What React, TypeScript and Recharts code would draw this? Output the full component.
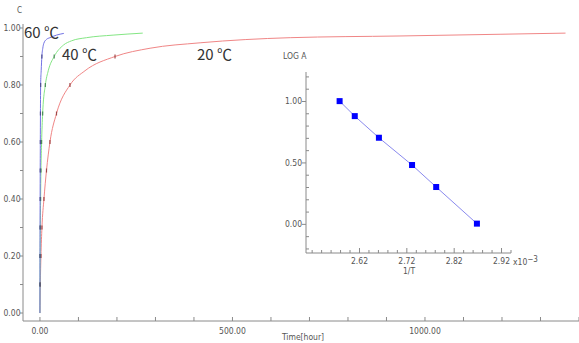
import React from 'react';
import { LineChart, Line, XAxis, YAxis } from 'recharts';

// ---- main chart data (time [hour] vs C) ----
const t20 = [0, 1, 2.6, 5.2, 10.4, 17, 26, 43, 78, 117, 195, 286, 416, 650, 935, 1195, 1365];
const c20 = [0, 0.1, 0.2, 0.3, 0.4, 0.5, 0.6, 0.7, 0.8, 0.85, 0.9, 0.929, 0.948, 0.966, 0.972, 0.978, 0.982];

const t40 = [0, 0.2, 0.5, 1, 1.7, 2.6, 4.3, 7, 14, 21.6, 37, 61, 82, 121, 190, 267];
const c40 = [0, 0.1, 0.2, 0.3, 0.4, 0.5, 0.6, 0.7, 0.8, 0.85, 0.9, 0.94, 0.955, 0.966, 0.975, 0.982];

const t60 = [0, 0.1, 0.2, 0.35, 0.5, 0.7, 1.0, 1.3, 1.8, 3.2, 5, 7.5, 10, 17, 26, 43, 62];
const c60 = [0, 0.1, 0.2, 0.3, 0.4, 0.5, 0.6, 0.7, 0.8, 0.85, 0.9, 0.93, 0.946, 0.96, 0.966, 0.975, 0.981];

const mainXTicks = [0, 100, 200, 300, 400, 500, 600, 700, 800, 900, 1000, 1100, 1200, 1300, 1400];
const mainXLabels = [0, 500, 1000];
const mainYTicks = [0, 0.1, 0.2, 0.3, 0.4, 0.5, 0.6, 0.7, 0.8, 0.9, 1.0];
const mainYLabels = [0, 0.2, 0.4, 0.6, 0.8, 1.0];

// ---- inset data (1/T vs LOG A) ----
const invT = [2.578, 2.61, 2.661, 2.731, 2.782, 2.868];
const logA = [1.003, 0.881, 0.705, 0.483, 0.304, 0.006];

const insetXTicks = [2.52, 2.54, 2.56, 2.58, 2.6, 2.62, 2.64, 2.66, 2.68, 2.7, 2.72, 2.74, 2.76, 2.78, 2.8, 2.82, 2.84, 2.86, 2.88, 2.9, 2.92, 2.94];
const insetXLabels = [2.62, 2.72, 2.82, 2.92];
const insetYTicks = [-0.2, -0.1, 0, 0.1, 0.2, 0.3, 0.4, 0.5, 0.6, 0.7, 0.8, 0.9, 1.0, 1.1, 1.2];
const insetYLabels = [0, 0.5, 1.0];

const series20 = t20.map((t, i) => ({ t, c: c20[i] }));
const series40 = t40.map((t, i) => ({ t, c: c40[i] }));
const series60 = t60.map((t, i) => ({ t, c: c60[i] }));
const insetData = invT.map((x, i) => ({ x, y: logA[i] }));

const TICK_FONT = '"Liberation Sans Narrow", "DejaVu Sans Condensed", "Arial Narrow", sans-serif';
const TICK_COLOR = '#555';
const AXIS_COLOR = '#8a8a8a';
const LABEL_FONT = '"Noto Sans CJK KR", "Noto Sans", sans-serif';

const has = (arr: number[], v: number) => arr.some((a) => Math.abs(a - v) < 1e-6);

const MainYTick = (props: any) => {
  const { x, y, payload } = props;
  const v = payload.value;
  return (
    <g>
      <line x1={x - 3} x2={x} y1={y} y2={y} stroke={AXIS_COLOR} />
      {has(mainYLabels, v) && (
        <text x={x - 2.5} y={y} dy={3} textAnchor="end" fontSize={8.5} fontFamily={TICK_FONT} fill={TICK_COLOR}>
          {v.toFixed(2)}
        </text>
      )}
    </g>
  );
};

const MainXTick = (props: any) => {
  const { x, y, payload } = props;
  const v = payload.value;
  return (
    <g>
      <line x1={x} x2={x} y1={y} y2={y - 4} stroke={AXIS_COLOR} />
      {has(mainXLabels, v) && (
        <text x={x} y={y + 13} textAnchor="middle" fontSize={8.5} fontFamily={TICK_FONT} fill={TICK_COLOR}>
          {v.toFixed(2)}
        </text>
      )}
    </g>
  );
};

const InsetYTick = (props: any) => {
  const { x, y, payload } = props;
  const v = payload.value;
  const major = has(insetYLabels, v);
  return (
    <g>
      {major ? (
        <line x1={x - 4} x2={x} y1={y} y2={y} stroke={AXIS_COLOR} />
      ) : (
        <line x1={x} x2={x + 3} y1={y} y2={y} stroke={AXIS_COLOR} />
      )}
      {major && (
        <text x={x - 4} y={y} dy={3} textAnchor="end" fontSize={8.5} fontFamily={TICK_FONT} fill={TICK_COLOR}>
          {v.toFixed(2)}
        </text>
      )}
    </g>
  );
};

const InsetXTick = (props: any) => {
  const { x, y, payload } = props;
  const v = payload.value;
  const major = has(insetXLabels, v);
  return (
    <g>
      <line x1={x} x2={x} y1={y} y2={y - (major ? 5 : 3)} stroke={AXIS_COLOR} />
      {major && (
        <text x={x} y={y + 11} textAnchor="middle" fontSize={8.5} fontFamily={TICK_FONT} fill={TICK_COLOR}>
          {v.toFixed(2)}
        </text>
      )}
    </g>
  );
};

const makeDash = (color: string) => (props: any) => {
  const { cx, cy, payload, index } = props;
  const v = payload.c;
  const isMark = v > 0 && v < 0.95 && Math.abs(v * 10 - Math.round(v * 10)) < 1e-6;
  if (!isMark || cx == null || cy == null) return <g key={`d${index}`} />;
  return <line key={`d${index}`} x1={cx} x2={cx} y1={cy - 2} y2={cy + 2} stroke={color} strokeWidth={1.2} />;
};

const Square = (props: any) => {
  const { cx, cy, index } = props;
  if (cx == null || cy == null) return <g key={`s${index}`} />;
  return <rect key={`s${index}`} x={cx - 3} y={cy - 3} width={6} height={6} fill="#0000ff" />;
};

export default function App() {
  return (
    <div style={{ position: 'fixed', left: 0, top: 0, width: 579, height: 343, background: '#fff', overflow: 'hidden' }}>
      <LineChart width={579} height={343} margin={{ top: 24, right: 0, bottom: 0, left: 0 }}>
        <XAxis
          xAxisId="main"
          type="number"
          dataKey="t"
          domain={[-44, 1400]}
          ticks={mainXTicks}
          interval={0}
          height={22}
          tickSize={0}
          tickMargin={0}
          tickLine={false}
          tick={<MainXTick />}
          axisLine={{ stroke: AXIS_COLOR }}
          allowDataOverflow
        />
        <XAxis
          xAxisId="top"
          orientation="top"
          type="number"
          dataKey="t"
          domain={[-44, 1400]}
          height={0}
          tick={false}
          tickLine={false}
          axisLine={{ stroke: '#9a9a9a' }}
          allowDataOverflow
        />
        <YAxis
          yAxisId="main"
          type="number"
          domain={[-0.028, 1.014]}
          ticks={mainYTicks}
          interval={0}
          width={23}
          tickSize={0}
          tickMargin={0}
          tickLine={false}
          tick={<MainYTick />}
          axisLine={{ stroke: AXIS_COLOR }}
          allowDataOverflow
        />
        <Line
          xAxisId="main"
          yAxisId="main"
          data={series20}
          dataKey="c"
          type="monotone"
          stroke="#f08686"
          strokeWidth={1}
          dot={makeDash('#a04848')}
          activeDot={false}
          isAnimationActive={false}
        />
        <Line
          xAxisId="main"
          yAxisId="main"
          data={series40}
          dataKey="c"
          type="monotone"
          stroke="#84e684"
          strokeWidth={1}
          dot={makeDash('#4a8a5a')}
          activeDot={false}
          isAnimationActive={false}
        />
        <Line
          xAxisId="main"
          yAxisId="main"
          data={series60}
          dataKey="c"
          type="monotone"
          stroke="#7272e4"
          strokeWidth={1}
          dot={makeDash('#505090')}
          activeDot={false}
          isAnimationActive={false}
        />
      </LineChart>

      <div style={{ position: 'absolute', left: 260, top: 40 }}>
        <LineChart width={290} height={250} data={insetData} margin={{ top: 32, right: 39, bottom: 0, left: 0 }}>
          <XAxis
            xAxisId="ix"
            type="number"
            dataKey="x"
            domain={[2.507, 2.94]}
            ticks={insetXTicks}
            interval={0}
            height={37}
            tickSize={0}
            tickMargin={0}
            tickLine={false}
            tick={<InsetXTick />}
            axisLine={{ stroke: AXIS_COLOR }}
            allowDataOverflow
          />
          <XAxis
            xAxisId="itop"
            orientation="top"
            type="number"
            dataKey="x"
            domain={[2.507, 2.94]}
            height={0}
            tick={false}
            tickLine={false}
            axisLine={{ stroke: '#808080', strokeWidth: 1.5 }}
            allowDataOverflow
          />
          <YAxis
            yAxisId="iy"
            type="number"
            domain={[-0.233, 1.24]}
            ticks={insetYTicks}
            interval={0}
            width={46}
            tickSize={0}
            tickMargin={0}
            tickLine={false}
            tick={<InsetYTick />}
            axisLine={{ stroke: AXIS_COLOR }}
            allowDataOverflow
          />
          <YAxis
            yAxisId="iright"
            orientation="right"
            type="number"
            domain={[-0.233, 1.24]}
            width={0}
            tick={false}
            tickLine={false}
            axisLine={{ stroke: '#808080', strokeWidth: 1.5 }}
            allowDataOverflow
          />
          <Line
            xAxisId="ix"
            yAxisId="iy"
            dataKey="y"
            type="linear"
            stroke="#8a8aee"
            strokeWidth={1}
            dot={<Square />}
            activeDot={false}
            isAnimationActive={false}
          />
        </LineChart>
      </div>

      <svg width={579} height={343} style={{ position: 'absolute', left: 0, top: 0, pointerEvents: 'none' }}>
        <text x={17} y={13} fontSize={8} fontFamily={TICK_FONT} fill={TICK_COLOR}>C</text>
        <text x={24} y={37.5} fontSize={15} fontFamily={LABEL_FONT} fill="#333">60 ℃</text>
        <text x={62} y={60} fontSize={15} fontFamily={LABEL_FONT} fill="#333">40 ℃</text>
        <text x={197} y={60} fontSize={15} fontFamily={LABEL_FONT} fill="#333">20 ℃</text>
        <text x={303} y={340} textAnchor="middle" fontSize={8.5} fontFamily={TICK_FONT} fill={TICK_COLOR}>Time[hour]</text>
        <text x={283} y={59} fontSize={8.5} fontFamily={TICK_FONT} fill={TICK_COLOR}>LOG A</text>
        <text x={409} y={274} textAnchor="middle" fontSize={8.5} fontFamily={TICK_FONT} fill={TICK_COLOR}>1/T</text>
        <text x={513} y={265} fontSize={8.5} fontFamily={TICK_FONT} fill={TICK_COLOR}>
          x10<tspan dy={-3} fontSize={8}>−3</tspan>
        </text>
      </svg>
    </div>
  );
}
